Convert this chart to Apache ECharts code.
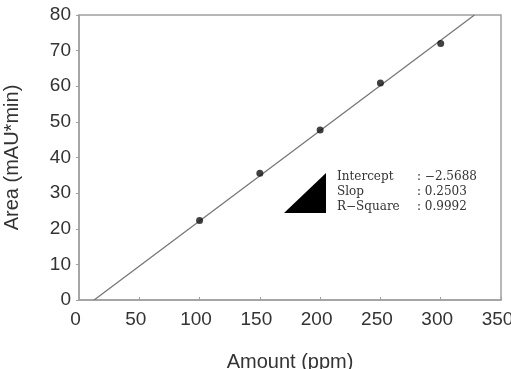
<!DOCTYPE html>
<html>
<head>
<meta charset="utf-8">
<script src="https://cdn.jsdelivr.net/npm/echarts@6/dist/echarts.min.js"></script>
<style>
  html, body { margin: 0; padding: 0; background: #fff; }
  #chart { width: 511px; height: 369px; }
</style>
</head>
<body>
<div id="chart"></div>
<script>
// measured points
var amount = [100, 150, 200, 250, 300];
var area = [22.3, 35.6, 47.7, 60.9, 72.0];
// fitted line as drawn (end points)
var fitX = [12.5, 328];
var fitY = [0, 80];
var statNames = ["Intercept", "Slop", "R\u2212Square"];
var statValues = [": \u22122.5688", ": 0.2503", ": 0.9992"];

var chart = echarts.init(document.getElementById("chart"));
var axisGray = "#a0a0a0";
var sans = "Liberation Sans, Arial, sans-serif";
var serif = "DejaVu Serif, Liberation Serif, serif";

chart.setOption({
  animation: false,
  grid: {
    left: 79, right: 10, top: 15, bottom: 69,
    outerBoundsMode: "none",
    show: true, borderColor: axisGray, borderWidth: 1.5
  },
  xAxis: {
    type: "value",
    min: 0, max: 350, interval: 50,
    name: "Amount (ppm)",
    nameLocation: "middle",
    nameGap: 52,
    nameTextStyle: { color: "#333", fontSize: 20, fontFamily: sans },
    axisLine: { lineStyle: { color: axisGray, width: 1.5 } },
    axisTick: { inside: true, length: 3, lineStyle: { color: axisGray } },
    axisLabel: { margin: 10, color: "#333", fontSize: 19, fontFamily: sans, padding: [0, 7, 0, 0] },
    splitLine: { show: false }
  },
  yAxis: {
    type: "value",
    min: 0, max: 80, interval: 10,
    name: "Area (mAU*min)",
    nameLocation: "middle",
    nameGap: 57,
    nameTextStyle: { color: "#333", fontSize: 20, fontFamily: sans },
    axisLine: { lineStyle: { color: axisGray, width: 1.5 } },
    axisTick: { length: 3, lineStyle: { color: axisGray } },
    axisLabel: { margin: 8, color: "#333", fontSize: 19, fontFamily: sans },
    splitLine: { show: false }
  },
  series: [
    {
      type: "line",
      data: fitX.map(function (x, i) { return [x, fitY[i]]; }),
      symbol: "none",
      lineStyle: { color: "#777", width: 1.3 },
      z: 1
    },
    {
      type: "scatter",
      data: amount.map(function (x, i) { return [x, area[i]]; }),
      symbol: "circle",
      symbolSize: 7,
      itemStyle: { color: "#111" },
      z: 2
    }
  ],
  graphic: [
    {
      type: "polygon",
      shape: { points: [[284, 213], [326, 213], [326, 173]] },
      style: { fill: "#000" }
    }
  ].concat(statNames.map(function (n, i) {
    return {
      type: "text", left: 337, top: 171 + i * 15,
      style: { text: n, fill: "#333", font: "12px " + serif }
    };
  })).concat(statValues.map(function (v, i) {
    return {
      type: "text", left: 417, top: 171 + i * 15,
      style: { text: v, fill: "#333", font: "12px " + serif }
    };
  }))
});
</script>
</body>
</html>
